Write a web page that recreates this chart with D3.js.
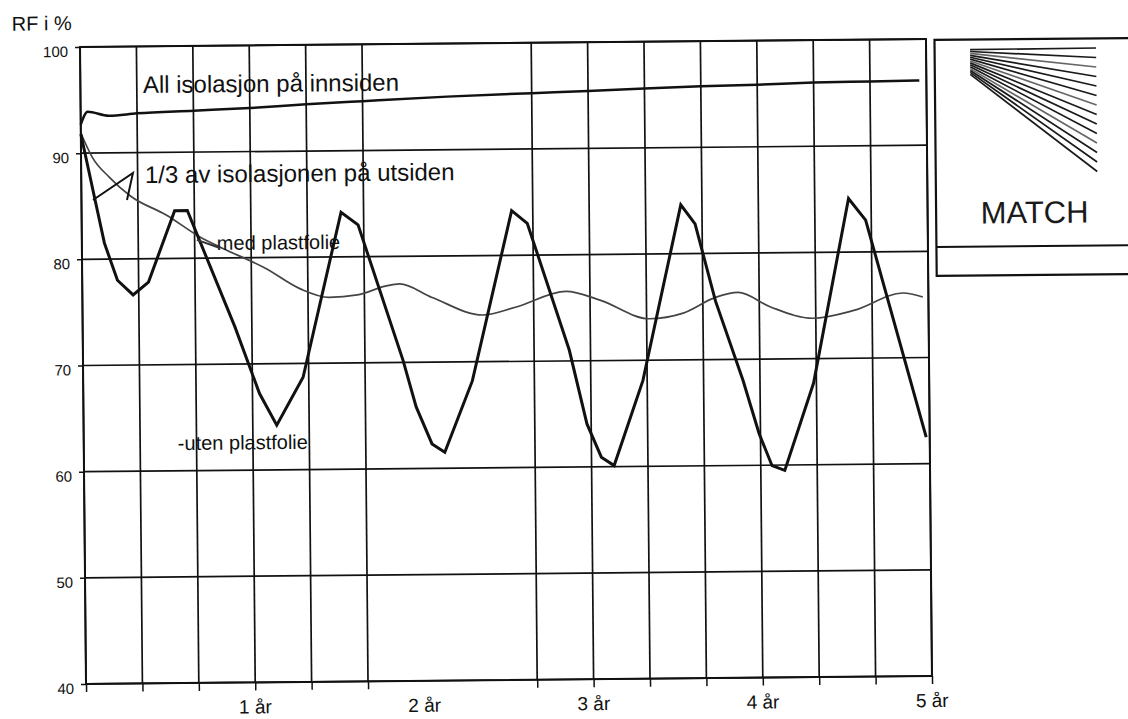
<!DOCTYPE html>
<html><head><meta charset="utf-8">
<script src="https://cdn.jsdelivr.net/npm/d3@7"></script>
<style>
html,body{margin:0;padding:0;background:#fff;}
svg{display:block;font-family:"Liberation Sans",Arial,Helvetica,sans-serif;}
</style></head><body>
<svg id="c" width="1128" height="719"></svg>
<script>
// ---- data (x in months, y in RF %) ----
const yTickValues = [40, 50, 60, 70, 80, 90, 100];
const gridMonths = [0, 4, 8, 12, 16, 20, 32, 36, 40, 44, 48, 52, 56, 60];
const yearMonths = [12, 24, 36, 48, 60];
const yearLabels = ["1 år", "2 år", "3 år", "4 år", "5 år"];

const insideMonths = [0, 0.5, 2, 4, 8, 12, 16, 20, 26, 32, 36, 40, 44, 48, 52, 56, 59.5];
const insideValues = [92.7, 93.9, 93.5, 93.7, 93.9, 94.1, 94.4, 94.65, 95.0, 95.25, 95.4, 95.6, 95.75, 95.85, 96.0, 96.05, 96.1];

const withFilmMonths = [0, 0.8, 2, 3.5, 6, 8.5, 10, 13, 15.5, 17.5, 19.5, 21.5, 22.5, 24.8, 28.4, 30.7, 34.3, 36.7, 40.2, 42.6, 44.9, 46.5, 48.8, 51.8, 54.7, 58.2, 59.6];
const withFilmValues = [91.9, 89.6, 87.7, 85.9, 84.1, 81.9, 80.9, 79.0, 77.0, 76.2, 76.4, 77.2, 77.4, 76.1, 74.4, 75.1, 76.55, 75.7, 73.9, 74.4, 75.85, 76.3, 74.9, 73.8, 74.5, 76.1, 75.7];

const withoutFilmMonths = [0, 0.9, 1.6, 2.5, 3.6, 4.7, 6.6, 7.5, 10.8, 12.5, 13.7, 15.6, 18.4, 19.6, 22.7, 23.6, 24.7, 25.6, 27.6, 30.5, 31.6, 34.5, 35.7, 36.7, 37.6, 39.7, 42.5, 43.5, 44.9, 46.8, 47.9, 48.8, 49.7, 51.8, 54.4, 55.6, 59.75];
const withoutFilmValues = [91.8, 86.0, 81.5, 78.0, 76.6, 77.8, 84.5, 84.5, 73.5, 67.2, 64.2, 68.7, 84.2, 83.0, 70.2, 65.8, 62.3, 61.5, 68.2, 84.2, 83.0, 71.0, 64.05, 60.9, 60.1, 68.1, 84.6, 82.8, 75.5, 68.0, 63.0, 59.95, 59.5, 67.7, 85.05, 83.0, 62.5];

// annotations (anchored in data units)
const labelTexts = ["All isolasjon på innsiden", "1/3 av isolasjonen på utsiden", "med plastfolie", "-uten plastfolie"];
const labelMonths = [4.43, 4.52, 9.57, 6.67];
const labelValues = [95.61, 87.13, 80.76, 61.95];
const labelSizes = [24, 24, 20, 20];
const pointerMonths = [0.82, 3.67, 3.23];
const pointerValues = [85.58, 88.09, 85.55];
const filmLeaderMonths = [8.16, 9.79];
const filmLeaderValues = [81.73, 80.95];

(function () {
// ---- layout ----
const svg = d3.select("#c");
const plotLeft = 83, plotTop = 43, plotW = 846, plotH = 637;
const x = d3.scaleLinear().domain([0, 60]).range([plotLeft, plotLeft + plotW]);
const y = d3.scaleLinear().domain([40, 100]).range([plotTop + plotH, plotTop]);
const ink = "#111";

const g = svg.append("g").attr("transform", "rotate(-0.54,506,362)");

// grid
g.append("g").selectAll("line").data(yTickValues).join("line")
  .attr("x1", x(0)).attr("x2", x(60))
  .attr("y1", d => y(d)).attr("y2", d => y(d))
  .attr("stroke", ink).attr("stroke-width", 1.7);
g.append("g").selectAll("line").data(gridMonths).join("line")
  .attr("x1", d => x(d)).attr("x2", d => x(d))
  .attr("y1", y(100)).attr("y2", y(40))
  .attr("stroke", ink).attr("stroke-width", 1.7);

// y axis
const yAxis = g.append("g").attr("transform", `translate(${x(0)},0)`)
  .call(d3.axisLeft(y).tickValues(yTickValues).tickSize(5).tickPadding(7).tickFormat(d3.format("d")));
yAxis.select(".domain").remove();
yAxis.selectAll("line").attr("stroke", ink).attr("stroke-width", 1.5);
yAxis.selectAll("text").attr("fill", "#111").attr("dy", "0.62em")
  .attr("font-family", '"Liberation Sans",Arial,sans-serif')
  .style("font-size", "15px");

// x axis ticks
const xAxis = g.append("g").attr("transform", `translate(0,${y(40)})`)
  .call(d3.axisBottom(x).tickValues(gridMonths).tickSize(8).tickFormat(""));
xAxis.select(".domain").remove();
xAxis.selectAll("line").attr("stroke", ink).attr("stroke-width", 1.5);

g.append("g").selectAll("text").data(yearMonths).join("text")
  .attr("x", d => x(d)).attr("y", 711)
  .attr("text-anchor", "middle").attr("font-size", 19).attr("fill", "#111")
  .text((d, i) => yearLabels[i]);

g.append("text").attr("x", 15).attr("y", 26).attr("font-size", 20).attr("fill", "#111").text("RF i %");

// series
g.append("path").datum(d3.zip(insideMonths, insideValues))
  .attr("d", d3.line().x(d => x(d[0])).y(d => y(d[1])).curve(d3.curveMonotoneX))
  .attr("fill", "none").attr("stroke", ink).attr("stroke-width", 2.5);
g.append("path").datum(d3.zip(withFilmMonths, withFilmValues))
  .attr("d", d3.line().x(d => x(d[0])).y(d => y(d[1])).curve(d3.curveMonotoneX))
  .attr("fill", "none").attr("stroke", "#444").attr("stroke-width", 1.7);
g.append("path").datum(d3.zip(withoutFilmMonths, withoutFilmValues))
  .attr("d", d3.line().x(d => x(d[0])).y(d => y(d[1])))
  .attr("fill", "none").attr("stroke", ink).attr("stroke-width", 3).attr("stroke-linejoin", "miter");

// border
g.append("rect").attr("x", x(0)).attr("y", y(100)).attr("width", x(60) - x(0)).attr("height", y(40) - y(100))
  .attr("fill", "none").attr("stroke", ink).attr("stroke-width", 2);

// annotations
g.append("g").selectAll("text").data(labelTexts).join("text")
  .attr("x", (d, i) => x(labelMonths[i])).attr("y", (d, i) => y(labelValues[i]))
  .attr("font-size", (d, i) => labelSizes[i]).attr("fill", "#111")
  .text(d => d);
g.append("path").datum(d3.zip(pointerMonths, pointerValues))
  .attr("d", d3.line().x(d => x(d[0])).y(d => y(d[1])))
  .attr("fill", "none").attr("stroke", ink).attr("stroke-width", 2);
g.append("path").datum(d3.zip(filmLeaderMonths, filmLeaderValues))
  .attr("d", d3.line().x(d => x(d[0])).y(d => y(d[1])))
  .attr("fill", "none").attr("stroke", "#333").attr("stroke-width", 2);

// MATCH logo box
const logo = g.append("g");
logo.append("rect").attr("x", 937.5).attr("y", 44).attr("width", 220).attr("height", 236)
  .attr("fill", "none").attr("stroke", ink).attr("stroke-width", 2.2);
logo.append("line").attr("x1", 937.5).attr("x2", 1160).attr("y1", 251).attr("y2", 251)
  .attr("stroke", ink).attr("stroke-width", 2);
const fan = d3.range(14);
logo.append("g").selectAll("line").data(fan).join("line")
  .attr("x1", 973).attr("y1", i => 54 + i * 1.9)
  .attr("x2", 1099).attr("y2", i => 53.6 + i * 9.5)
  .attr("stroke", i => (i % 4 === 2 ? "#666" : "#1a1a1a")).attr("stroke-width", 1.7);
logo.append("text").attr("x", 982).attr("y", 228).attr("font-size", 31).attr("fill", "#1a1a1a").text("MATCH");
})();
</script>
</body></html>
